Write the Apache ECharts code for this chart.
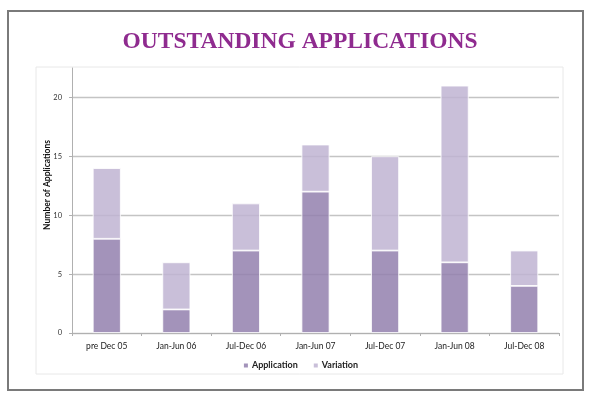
<!DOCTYPE html>
<html>
<head>
<meta charset="utf-8">
<script src="https://cdn.jsdelivr.net/npm/echarts@6/dist/echarts.min.js"></script>
<style>
  html, body { margin: 0; padding: 0; background: #fff; }
  #main { width: 600px; height: 405px; }
</style>
</head>
<body>
<div id="main"></div>
<script>
var categories = ["pre Dec 05", "Jan-Jun 06", "Jul-Dec 06", "Jan-Jun 07", "Jul-Dec 07", "Jan-Jun 08", "Jul-Dec 08"];
var application = [8, 2, 7, 12, 7, 6, 4];
var variation = [6, 4, 4, 4, 8, 15, 3];

var myChart = echarts.init(document.getElementById("main"));

myChart.setOption({
  backgroundColor: "#fff",
  animation: false,
  title: {
    text: "OUTSTANDING APPLICATIONS",
    left: "center",
    top: 25,
    textStyle: {
      fontFamily: "Liberation Serif",
      fontWeight: "bold",
      fontSize: 23.5,
      color: "#8f2b8f"
    }
  },
  graphic: [
    // outer frame
    { type: "rect", shape: { x: 8, y: 11, width: 575, height: 379 },
      style: { fill: "none", stroke: "#7a7a7a", lineWidth: 2 }, z: -1 },
    // chart area border
    { type: "rect", shape: { x: 36, y: 67, width: 527, height: 307 },
      style: { fill: "none", stroke: "#e8e8e8", lineWidth: 1 }, z: -1 },
    // axis title
    { type: "text", x: 47, y: 185, rotation: Math.PI / 2,
      style: { text: "Number of Applications", fontFamily: "Lato", fontWeight: "bold",
        fontSize: 8.5, fill: "#111", align: "center", verticalAlign: "middle" } }
  ],
  legend: {
    bottom: 30,
    left: "center",
    icon: "rect",
    itemWidth: 6,
    itemHeight: 6,
    itemGap: 14,
    textStyle: { fontFamily: "Lato", fontWeight: "bold", fontSize: 9, color: "#222", padding: [0, 0, 0, -2] },
    data: ["Application", "Variation"]
  },
  grid: { left: 72, right: 41, top: 68, bottom: 72 },
  xAxis: {
    type: "category",
    data: categories,
    axisLine: { lineStyle: { color: "#b0b0b0" } },
    axisTick: { show: true, length: 3, lineStyle: { color: "#b0b0b0" } },
    axisLabel: { fontFamily: "Lato", fontSize: 8.5, color: "#222", margin: 9 }
  },
  yAxis: {
    type: "value",
    min: 0,
    max: 22.5,
    interval: 5,
    axisLine: { show: true, lineStyle: { color: "#b0b0b0" } },
    axisTick: { show: true, length: 3, lineStyle: { color: "#b0b0b0" } },
    axisLabel: { fontFamily: "Lato", fontSize: 7.5, color: "#333", margin: 10, showMaxLabel: false },
    splitLine: { lineStyle: { color: ["#c4c4c4", "#c4c4c4", "#c4c4c4", "#c4c4c4", "#c4c4c4", "rgba(0,0,0,0)"], width: 1.3 } }
  },
  series: [
    {
      name: "Application",
      type: "bar",
      stack: "one",
      barWidth: 28,
      itemStyle: { color: "rgba(147,128,174,0.85)", borderColor: "#fff", borderWidth: 0.8 },
      data: application
    },
    {
      name: "Variation",
      type: "bar",
      stack: "one",
      barWidth: 28,
      itemStyle: { color: "rgba(191,180,210,0.85)", borderColor: "#fff", borderWidth: 0.8 },
      data: variation
    }
  ]
});
</script>
</body>
</html>
